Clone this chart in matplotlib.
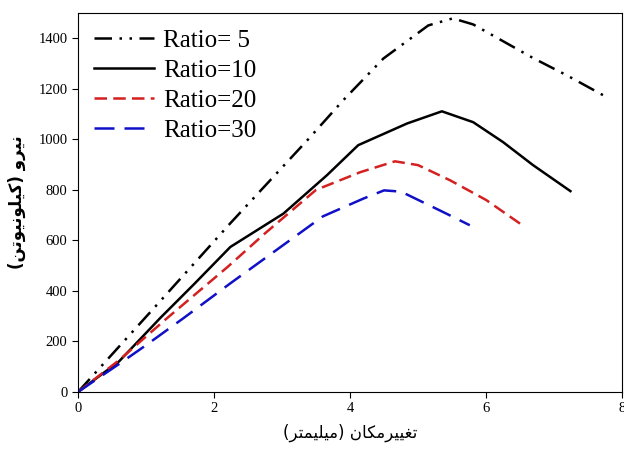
import numpy as np
import matplotlib
matplotlib.use("Agg")
import matplotlib.pyplot as plt

# خوانده شده از نمودار
x_r5 = [0, 1.13, 2.24, 3.37, 3.9, 4.49, 5.15, 5.51, 5.81, 6.69, 7.19, 7.78]
y_r5 = [0, 336, 668, 996, 1155, 1320, 1451, 1479, 1455, 1322, 1253, 1166]

x_r10 = [0, 0.6, 1.21, 1.7, 2.24, 3.02, 3.66, 4.12, 4.84, 5.35, 5.81, 6.25, 6.69, 7.24]
y_r10 = [0, 120, 293, 425, 574, 706, 858, 977, 1063, 1111, 1068, 989, 898, 795]

x_r20 = [0, 0.6, 1.3, 2.2, 2.75, 3.5, 4.15, 4.66, 5.0, 5.47, 6.0, 6.56]
y_r20 = [0, 125, 290, 495, 628, 800, 870, 913, 898, 838, 760, 655]

x_r30 = [0, 0.6, 1.0, 1.55, 2.24, 3.0, 3.6, 4.2, 4.5, 4.75, 5.37, 5.76]
y_r30 = [0, 110, 185, 292, 430, 578, 695, 766, 798, 793, 712, 660]

labels = ["Ratio= 5", "Ratio=10", "Ratio=20", "Ratio=30"]
xlabel = "تغییرمکان (میلیمتر)"
ylabel = "نیرو (کیلونیوتن)"

# matplotlib حروف فارسی را به هم نمی چسباند، پس دستی شکل می دهیم
FORMS = {
    'ا': ('\uFE8D', '\uFE8E', None, None),
    'ت': ('\uFE95', '\uFE96', '\uFE97', '\uFE98'),
    'ر': ('\uFEAD', '\uFEAE', None, None),
    'غ': ('\uFECD', '\uFECE', '\uFECF', '\uFED0'),
    'ل': ('\uFEDD', '\uFEDE', '\uFEDF', '\uFEE0'),
    'م': ('\uFEE1', '\uFEE2', '\uFEE3', '\uFEE4'),
    'ن': ('\uFEE5', '\uFEE6', '\uFEE7', '\uFEE8'),
    'و': ('\uFEED', '\uFEEE', None, None),
    'ی': ('\uFBFC', '\uFBFD', '\uFBFE', '\uFBFF'),
    'ک': ('\uFB8E', '\uFB8F', '\uFB90', '\uFB91'),
}


def shape(s):
    out = []
    for i, ch in enumerate(s):
        if ch not in FORMS:
            out.append(ch)
            continue
        prev = s[i - 1] if i > 0 else ''
        nxt = s[i + 1] if i + 1 < len(s) else ''
        join_prev = prev in FORMS and FORMS[prev][2] is not None
        join_next = FORMS[ch][2] is not None and nxt in FORMS
        iso, fin, ini, med = FORMS[ch]
        if join_prev and join_next:
            out.append(med)
        elif join_prev:
            out.append(fin)
        elif join_next:
            out.append(ini)
        else:
            out.append(iso)
    mirror = {'(': ')', ')': '('}
    return ''.join(mirror.get(c, c) for c in reversed(out))


fig, ax = plt.subplots(figsize=(6.24, 4.5), dpi=100)
fig.subplots_adjust(left=0.125, right=0.997, bottom=0.129, top=0.971)

ax.plot(x_r5, y_r5, color="black", lw=1.8, dashes=(7, 3, 1, 3, 1, 3), label=labels[0])
ax.plot(x_r10, y_r10, color="black", lw=1.8, label=labels[1])
ax.plot(x_r20, y_r20, color="#d42020", lw=1.8, dashes=(5, 2.5), label=labels[2])
ax.plot(x_r30, y_r30, color="#1010c8", lw=1.8, dashes=(8, 4), label=labels[3])

ax.set_xlim(0, 8)
ax.set_ylim(0, 1500)
ax.set_xticks([0, 2, 4, 6, 8])
ax.set_yticks(np.arange(0, 1401, 200))
ax.tick_params(direction="out", length=4, labelsize=10.5)
for t in ax.get_xticklabels() + ax.get_yticklabels():
    t.set_fontfamily("Liberation Serif")

ax.set_xlabel(shape(xlabel), fontsize=12, family="DejaVu Sans", labelpad=6)
ax.set_ylabel(shape(ylabel), fontsize=12, family="DejaVu Sans", fontweight="bold", labelpad=9)

leg = ax.legend(loc="upper left", frameon=False, handlelength=2.4,
                prop={"family": "Liberation Serif", "size": 18},
                borderaxespad=0.3, borderpad=0.35, labelspacing=0.3, handletextpad=0.35)

fig.savefig("out.png", dpi=100)
